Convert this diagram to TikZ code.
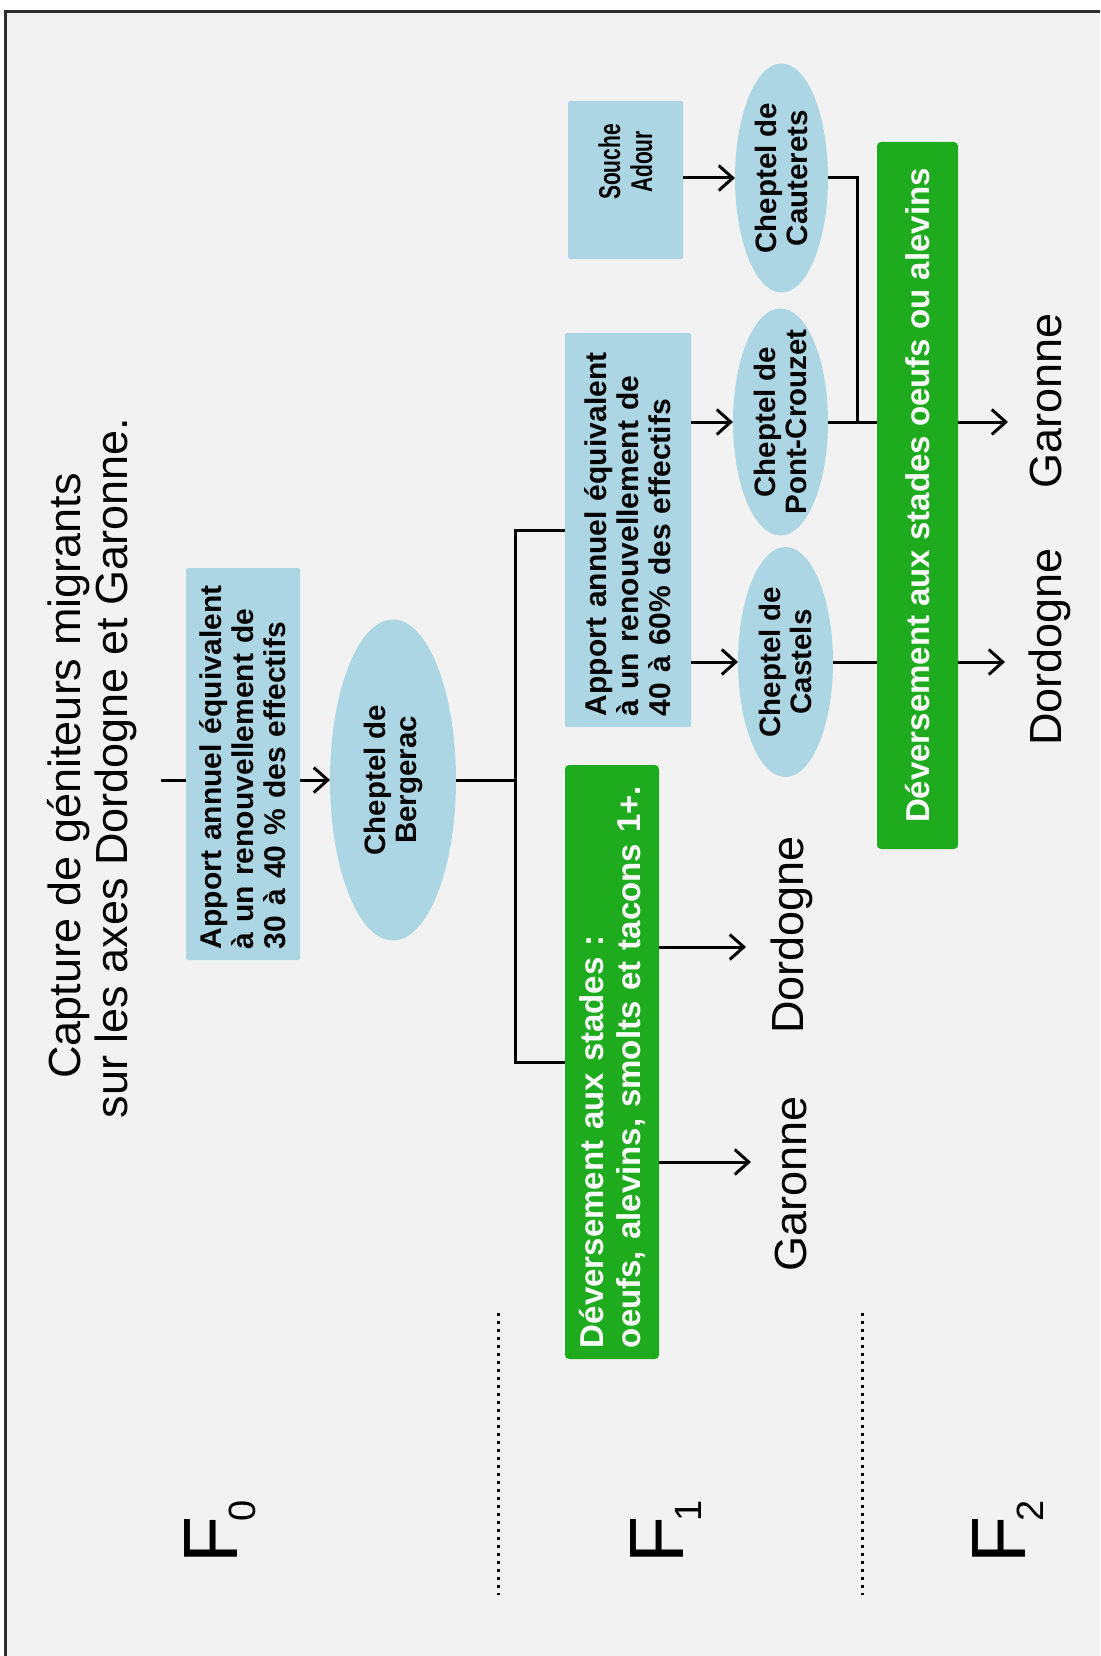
\documentclass[tikz,border=0pt]{standalone}
\usepackage{fontspec}
\setmainfont{Liberation Sans}
\usetikzlibrary{arrows.meta,shapes.geometric,calc}
\definecolor{bgc}{RGB}{242,242,242}
\definecolor{lblue}{RGB}{173,214,229}
\definecolor{vgreen}{RGB}{30,172,30}
\definecolor{framec}{RGB}{45,45,45}
\begin{document}
\begin{tikzpicture}[x=1pt,y=-1pt,
  rnode/.style={rotate=90, inner sep=0pt, outer sep=0pt},
  bbox/.style={rnode, fill=lblue, rounded corners=2pt, font=\fontsize{30}{32}\selectfont\bfseries, align=left, inner xsep=11pt},
  ell/.style={rnode, ellipse, fill=lblue},
  elltxt/.style={rnode, font=\fontsize{29.5}{31}\selectfont\bfseries, align=center},
  gbox/.style={rnode, fill=vgreen, rounded corners=4pt, text=white, font=\fontsize{33}{37}\selectfont\bfseries},
  lab/.style={rnode, anchor=base, font=\fontsize{45}{48}\selectfont},
  conn/.style={line width=3pt, draw=black},
  arr/.style={conn, -{Straight Barb[length=14pt,width=25pt]}},
  gen/.style={rnode, anchor=base west, font=\fontsize{77}{80}\selectfont},
  sepline/.style={line width=3pt, dash pattern=on 3pt off 5pt}
]
\useasboundingbox (0,0) rectangle (1100,1656);
\clip (0,0) rectangle (1100,1656);
\fill[white] (0,0) rectangle (1100,1656);
\draw[framec, fill=bgc, line width=3pt] (5,12) rectangle (1200,1760);

% title
\node[lab] (t1) at (80,776) {Capture de géniteurs migrants};
\node[lab] (t2) at (127,768) {sur les axes Dordogne et Garonne.};

% generation labels
\node[gen] (f0) at (237,1563) {F\kern-6pt\raisebox{-18pt}{\fontsize{38}{38}\selectfont 0}};
\node[gen] (f1) at (683,1563) {F\kern-6pt\raisebox{-18pt}{\fontsize{38}{38}\selectfont 1}};
\node[gen] (f2) at (1025,1563) {F\kern-6pt\raisebox{-18pt}{\fontsize{38}{38}\selectfont 2}};
\draw[sepline] (498,1313) -- (498,1595);
\draw[sepline] (862,1313) -- (862,1595);

% F0
\node[ell, minimum width=321pt, minimum height=126pt] (berg) at (393,780) {};
\node[elltxt] (bergt) at (berg.center) {Cheptel de\\Bergerac};
\coordinate (in0) at (161,780);
\draw[arr] (in0) -- (berg.north);
\node[bbox, minimum width=392pt, minimum height=114pt, text width=370pt] (b1) at (243,764)
  {Apport annuel équivalent\\à un renouvellement de\\30 à 40 \% des effectifs};

% F1
\node[bbox, minimum width=394pt, minimum height=126pt, text width=372pt] (b2) at (628,530)
  {Apport annuel équivalent\\à un renouvellement de\\40 à 60\% des effectifs};
\node[bbox, minimum width=158pt, minimum height=115pt] (souche) at (625.5,180) {};
\node[rnode, font=\fontsize{30}{32}\selectfont\bfseries, align=center] (souchet) at (625.5,162)
  {\scalebox{0.7}[1]{Souche}\\\scalebox{0.7}[1]{Adour}};
\node[gbox, minimum width=594pt, minimum height=94pt, text width=572pt, align=left, inner xsep=11pt] (g1) at (612,1062)
  {Déversement aux stades :\\oeufs, alevins, smolts et tacons 1+.};
\coordinate (jn) at (515,780);
\draw[conn] (berg.south) -- (jn);
\draw[conn] (b2.north) -| (jn) |- (g1.north);
\coordinate (a1) at (746,947);
\coordinate (a2) at (751,1162);
\draw[arr] (g1.south |- a1) -- (a1);
\draw[arr] (g1.south |- a2) -- (a2);
\node[lab] (d1) at (803,935) {Dordogne};
\node[lab] (ga1) at (806,1184) {Garonne};

% F2
\node[ell, minimum width=229pt, minimum height=93pt] (caut) at (781.5,178) {};
\node[elltxt] (cautt) at (caut.center) {Cheptel de\\Cauterets};
\node[ell, minimum width=227pt, minimum height=95pt] (pc) at (780.5,422) {};
\node[elltxt] (pct) at (pc.center) {Cheptel de\\Pont-Crouzet};
\node[ell, minimum width=230pt, minimum height=95pt] (cast) at (785.5,662) {};
\node[elltxt] (castt) at (cast.center) {Cheptel de\\Castels};
\draw[arr] (souche.south |- caut.center) -- (caut.north);
\draw[arr] (b2.south |- pc.center) -- (pc.north);
\draw[arr] (b2.south |- cast.center) -- (cast.north);
\coordinate (j2) at (857,422);
\draw[conn] (caut.south) -| (j2);
\coordinate (a3) at (1008,422);
\coordinate (a4) at (1005,662);
\draw[arr] (pc.south) -- (a3);
\draw[arr] (cast.south) -- (a4);
\node[gbox, minimum width=707pt, minimum height=81pt, align=center] (g2) at (917.5,495.5)
  {Déversement aux stades oeufs ou alevins};
\node[lab] (ga2) at (1061,401) {Garonne};
\node[lab] (d2) at (1061,647) {Dordogne};
\end{tikzpicture}
\end{document}
